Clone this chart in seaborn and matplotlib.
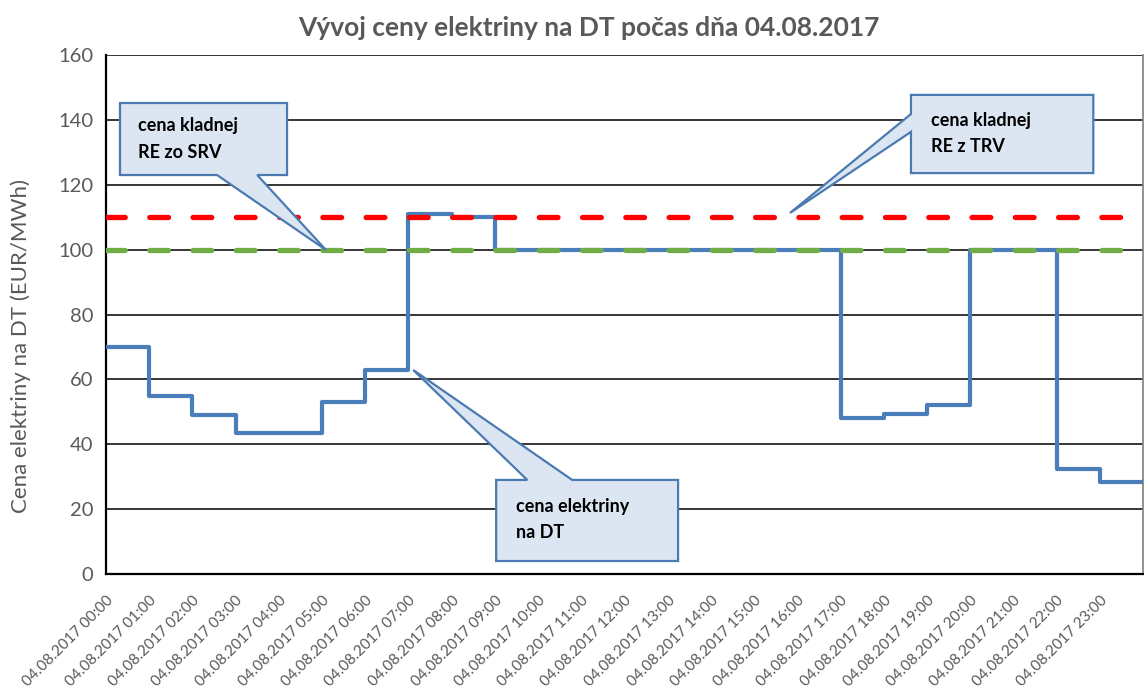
import matplotlib
matplotlib.use("Agg")
import matplotlib.pyplot as plt
from matplotlib.patches import Polygon
import seaborn as sns
import pandas as pd

# ---- data ----
hours = list(range(24))
tick_labels = [f"04.08.2017 {h:02d}:00" for h in hours]
price_dt = [70, 55, 49, 43.5, 43.5, 53, 63, 111, 110, 100, 100, 100, 100, 100,
            100, 100, 100, 48, 49.3, 52, 100, 100, 32.3, 28.3]
price_trv = 110   # cena kladnej RE z TRV
price_srv = 100   # cena kladnej RE zo SRV

sns.set_theme(style="white")
plt.rcParams['font.family'] = ['Lato', 'DejaVu Sans']

fig = plt.figure(figsize=(11.44, 6.93), dpi=100)
ax = fig.add_axes([106/1144, 1-574/693, 1037/1144, 519/693])

# step line (append end of last hour)
df = pd.DataFrame({"hour": hours + [24], "price": price_dt + [price_dt[-1]]})
df_trv = pd.DataFrame({"hour": [0, 24], "price": [price_trv] * 2})
df_srv = pd.DataFrame({"hour": [0, 24], "price": [price_srv] * 2})

for y in range(20, 161, 20):
    ax.axhline(y, color="#000000", lw=1.1, zorder=1)

sns.lineplot(data=df, x="hour", y="price", ax=ax, color="#4A7EBB", lw=3.0,
             drawstyle="steps-post", zorder=3)
ax.lines[-1].set_solid_joinstyle("round")
dash = (0, (3.55, 4.65))
sns.lineplot(data=df_srv, x="hour", y="price", ax=ax, color="#70AD47", lw=3.8, zorder=4)
ax.lines[-1].set(linestyle=dash, dash_capstyle="round")
sns.lineplot(data=df_trv, x="hour", y="price", ax=ax, color="#FF0000", lw=3.8, zorder=4)
ax.lines[-1].set(linestyle=dash, dash_capstyle="round")

ax.set_xlim(0, 24)
ax.set_ylim(0, 160)
ax.set_yticks(range(0, 161, 20))
ax.set_xticks(hours)
ax.set_xticklabels(tick_labels, rotation=45, ha="right", rotation_mode="anchor",
                   fontsize=11, color="#595959")
ax.tick_params(axis="y", labelsize=14.5, colors="#595959", length=0, pad=9)
ax.tick_params(axis="x", length=0, pad=14)
for lab in ax.get_yticklabels():
    lab.set_color("#595959")
ax.set_xlabel("")
ax.set_ylabel("Cena elektriny na DT (EUR/MWh)", fontsize=16, color="#595959",
              fontweight="normal")
ax.yaxis.set_label_coords(-0.072, 0.44)

for s in ["left", "bottom"]:
    ax.spines[s].set_color("#000000")
    ax.spines[s].set_linewidth(1.6)
ax.spines["top"].set_visible(False)
ax.spines["right"].set_color("#7F7F7F")
ax.spines["right"].set_linewidth(1.2)

fig.text(0.515, 1 - 28/693, "Vývoj ceny elektriny na DT počas dňa 04.08.2017",
         fontsize=19, fontweight="bold", color="#595959", va="center", ha="center")


def callout(box, base, tip, lines, tx, ty):
    x0, x1, yb, yt = box
    if base[0] == "bottom":
        a, b = base[1], base[2]
        pts = [(x0, yt), (x1, yt), (x1, yb), (b, yb), tip, (a, yb), (x0, yb)]
    elif base[0] == "top":
        a, b = base[1], base[2]
        pts = [(x0, yt), (a, yt), tip, (b, yt), (x1, yt), (x1, yb), (x0, yb)]
    else:  # left
        a, b = base[1], base[2]  # a upper y, b lower y
        pts = [(x0, yt), (x1, yt), (x1, yb), (x0, yb), (x0, b), tip, (x0, a)]
    ax.add_patch(Polygon(pts, closed=True, facecolor="#DCE6F2", edgecolor="#4A7AB0",
                         lw=1.6, zorder=6, joinstyle="miter"))
    ax.text(tx, ty, lines, fontsize=13, fontweight="bold", color="#000000",
            va="center", ha="left", linespacing=1.7, zorder=7)


callout((0.324, 4.19, 123.0, 145.2), ("bottom", 2.57, 3.50), (5.09, 99.9),
        "cena kladnej\nRE zo SRV", 0.75, 134.2)
callout((18.63, 22.85, 123.6, 147.7), ("left", 141.8, 136.3), (15.83, 111.3),
        "cena kladnej\nRE z TRV", 19.1, 135.8)
callout((9.03, 13.24, 4.0, 29.0), ("top", 9.75, 10.79), (7.11, 62.9),
        "cena elektriny\nna DT", 9.5, 16.8)

fig.savefig("out.png", dpi=100)
